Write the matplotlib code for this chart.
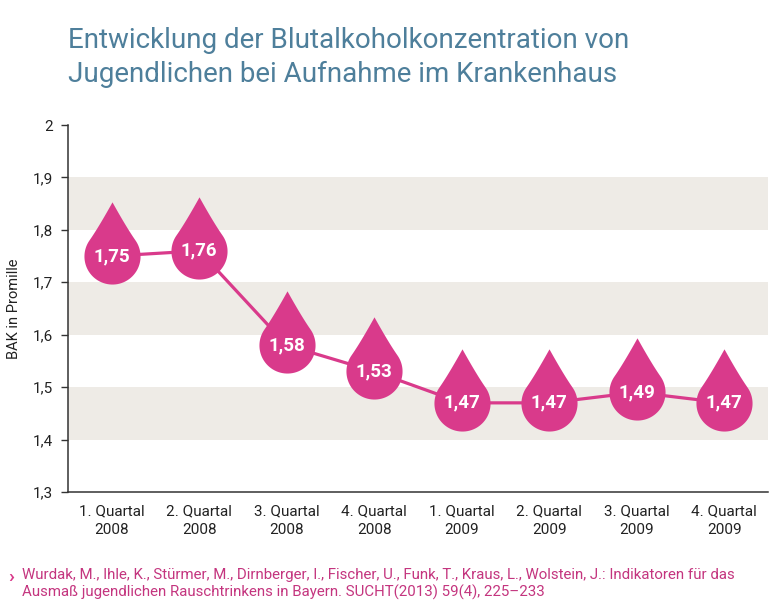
import numpy as np
import matplotlib.pyplot as plt
from matplotlib.path import Path

quarters = ["1. Quartal\n2008", "2. Quartal\n2008", "3. Quartal\n2008", "4. Quartal\n2008",
            "1. Quartal\n2009", "2. Quartal\n2009", "3. Quartal\n2009", "4. Quartal\n2009"]
bak = [1.75, 1.76, 1.58, 1.53, 1.47, 1.47, 1.49, 1.47]
y_ticks = [1.3, 1.4, 1.5, 1.6, 1.7, 1.8, 1.9, 2.0]
y_labels = ["1,3", "1,4", "1,5", "1,6", "1,7", "1,8", "1,9", "2"]
bands = [(1.4, 1.5), (1.6, 1.7), (1.8, 1.9)]

pink = "#d93a8b"
blue = "#4e7f9b"
font = "Roboto"

# Tropfenform: Kreis unten, Spitze oben
phi = np.radians(35)
h = 1.93
ang = np.linspace(np.pi - phi, 2 * np.pi + phi, 60)
circ = np.column_stack([np.cos(ang), np.sin(ang)])
p0 = np.array([np.cos(phi), np.sin(phi)])
p1 = p0 + 0.55 * np.array([-np.sin(phi), np.cos(phi)])
p2 = np.array([0.0, h])
t = np.linspace(0, 1, 30)[:, None]
right = (1 - t) ** 2 * p0 + 2 * (1 - t) * t * p1 + t ** 2 * p2
left = right[::-1] * np.array([-1, 1])
verts = np.vstack([circ, right[1:], left[1:]])
drop = Path(verts, closed=True)

fig = plt.figure(figsize=(7.78, 6.11), dpi=100)
ax = fig.add_axes([0.0874, 0.1948, 0.8997, 0.6006])

for lo, hi in bands:
    ax.axhspan(lo, hi, color="#eeebe6", lw=0, zorder=0)

x = np.arange(len(bak))
ax.plot(x, bak, color=pink, lw=2.3, zorder=2)
ax.plot(x, bak, ls="none", marker=drop, ms=78, color=pink, mec="none", zorder=3)
for xi, v in zip(x, bak):
    ax.text(xi, v, f"{v:.2f}".replace(".", ","), ha="center", va="center",
            color="white", fontsize=13.5, fontweight="bold", family=font, zorder=4)

ax.set_xlim(-0.5, 7.5)
ax.set_ylim(1.3, 2.0)
ax.set_yticks(y_ticks)
ax.set_yticklabels(y_labels, fontsize=11, family=font, color="#222222")
ax.set_xticks(x)
ax.set_xticklabels(quarters, fontsize=11, family=font, color="#222222", linespacing=1.45)
ax.tick_params(axis="x", length=0, pad=9)
ax.tick_params(axis="y", length=5, width=1, color="#333333", pad=6)
for s in ["top", "right"]:
    ax.spines[s].set_visible(False)
for s in ["left", "bottom"]:
    ax.spines[s].set_color("#333333")
    ax.spines[s].set_linewidth(1.1)
ax.set_ylabel("BAK in Promille", fontsize=10.5, family=font, color="#222222", labelpad=8)

fig.text(0.0874, 0.955, "Entwicklung der Blutalkoholkonzentration von\nJugendlichen bei Aufnahme im Krankenhaus",
         fontsize=20, family=font, color=blue, va="top", ha="left", linespacing=1.3)

fig.text(0.011, 1 - 568 / 611, "›", fontsize=14, family=font, color=pink, fontweight="bold", va="top")
fig.text(0.028, 1 - 568 / 611,
         "Wurdak, M., Ihle, K., Stürmer, M., Dirnberger, I., Fischer, U., Funk, T., Kraus, L., Wolstein, J.: Indikatoren für das\n"
         "Ausmaß jugendlichen Rauschtrinkens in Bayern. SUCHT(2013) 59(4), 225–233",
         fontsize=10.8, family=font, color="#c4357f", va="top", ha="left", linespacing=1.2)

fig.savefig("out.png", dpi=100)
